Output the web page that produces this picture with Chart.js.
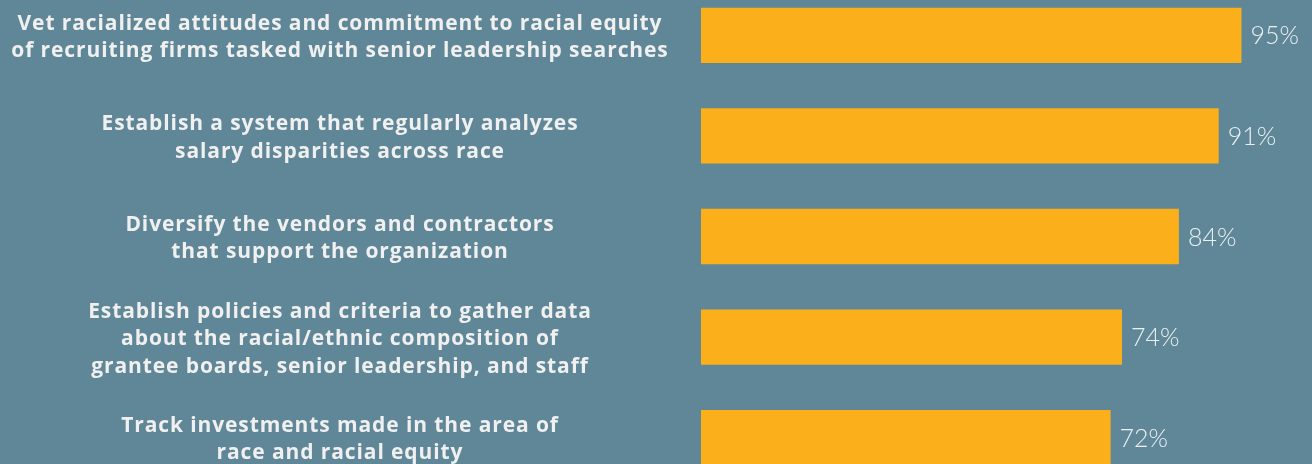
<!DOCTYPE html>
<html>
<head>
<meta charset="utf-8">
<script src="https://cdn.jsdelivr.net/npm/chart.js@4/dist/chart.umd.min.js"></script>
<style>
  html, body { margin:0; padding:0; width:1312px; height:464px; overflow:hidden; background:#5f8797; }
  #wrap { position:absolute; left:0; top:-15px; width:1312px; height:503px; }
</style>
</head>
<body>
<div id="wrap"><canvas id="c"></canvas></div>
<script>
const categories = [
  ["Vet racialized attitudes and commitment to racial equity", "of recruiting firms tasked with senior leadership searches"],
  ["Establish a system that regularly analyzes", "salary disparities across race"],
  ["Diversify the vendors and contractors", "that support the organization"],
  ["Establish policies and criteria to gather data", "about the racial/ethnic composition of", "grantee boards, senior leadership, and staff"],
  ["Track investments made in the area of", "race and racial equity"]
];
const values = [95, 91, 84, 74, 72];
const valueLabels = ["95%", "91%", "84%", "74%", "72%"];

const labelPlugin = {
  id: 'labels',
  afterDatasetsDraw(chart) {
    const ctx = chart.ctx;
    const meta = chart.getDatasetMeta(0);
    const yScale = chart.scales.y;
    ctx.save();
    // value labels
    ctx.font = '300 25px Lato, "Open Sans", sans-serif';
    ctx.fillStyle = '#eaf0f2';
    ctx.textAlign = 'left';
    ctx.textBaseline = 'middle';
    meta.data.forEach((bar, i) => {
      ctx.fillText(valueLabels[i], bar.x + 9, bar.y + 1);
    });
    // category labels
    ctx.font = '700 21px "Open Sans", sans-serif';
    if ('letterSpacing' in ctx) ctx.letterSpacing = '0.9px';
    ctx.fillStyle = '#f0f0f0';
    ctx.textAlign = 'center';
    const lh = 27.5;
    const cx = (yScale.right - 21) / 2;
    categories.forEach((lines, i) => {
      const yc = yScale.getPixelForValue(i);
      lines.forEach((line, j) => {
        ctx.fillText(line, cx, yc + (j - (lines.length - 1) / 2) * lh + 2);
      });
    });
    ctx.restore();
  }
};

new Chart(document.getElementById('c'), {
  type: 'bar',
  data: {
    labels: categories,
    datasets: [{
      data: values,
      backgroundColor: '#fbb01b',
      borderWidth: 0,
      barPercentage: 0.55,
      categoryPercentage: 1.0
    }]
  },
  options: {
    indexAxis: 'y',
    responsive: true,
    maintainAspectRatio: false,
    animation: false,
    layout: { padding: 0 },
    plugins: { legend: { display: false }, tooltip: { enabled: false } },
    scales: {
      x: { display: false, min: 0, max: 107.4 },
      y: {
        grid: { display: false },
        border: { display: false },
        ticks: { display: false },
        afterFit(scale) { scale.width = 701; scale.paddingTop = 0; scale.paddingBottom = 0; }
      }
    }
  },
  plugins: [labelPlugin]
});
</script>
</body>
</html>
